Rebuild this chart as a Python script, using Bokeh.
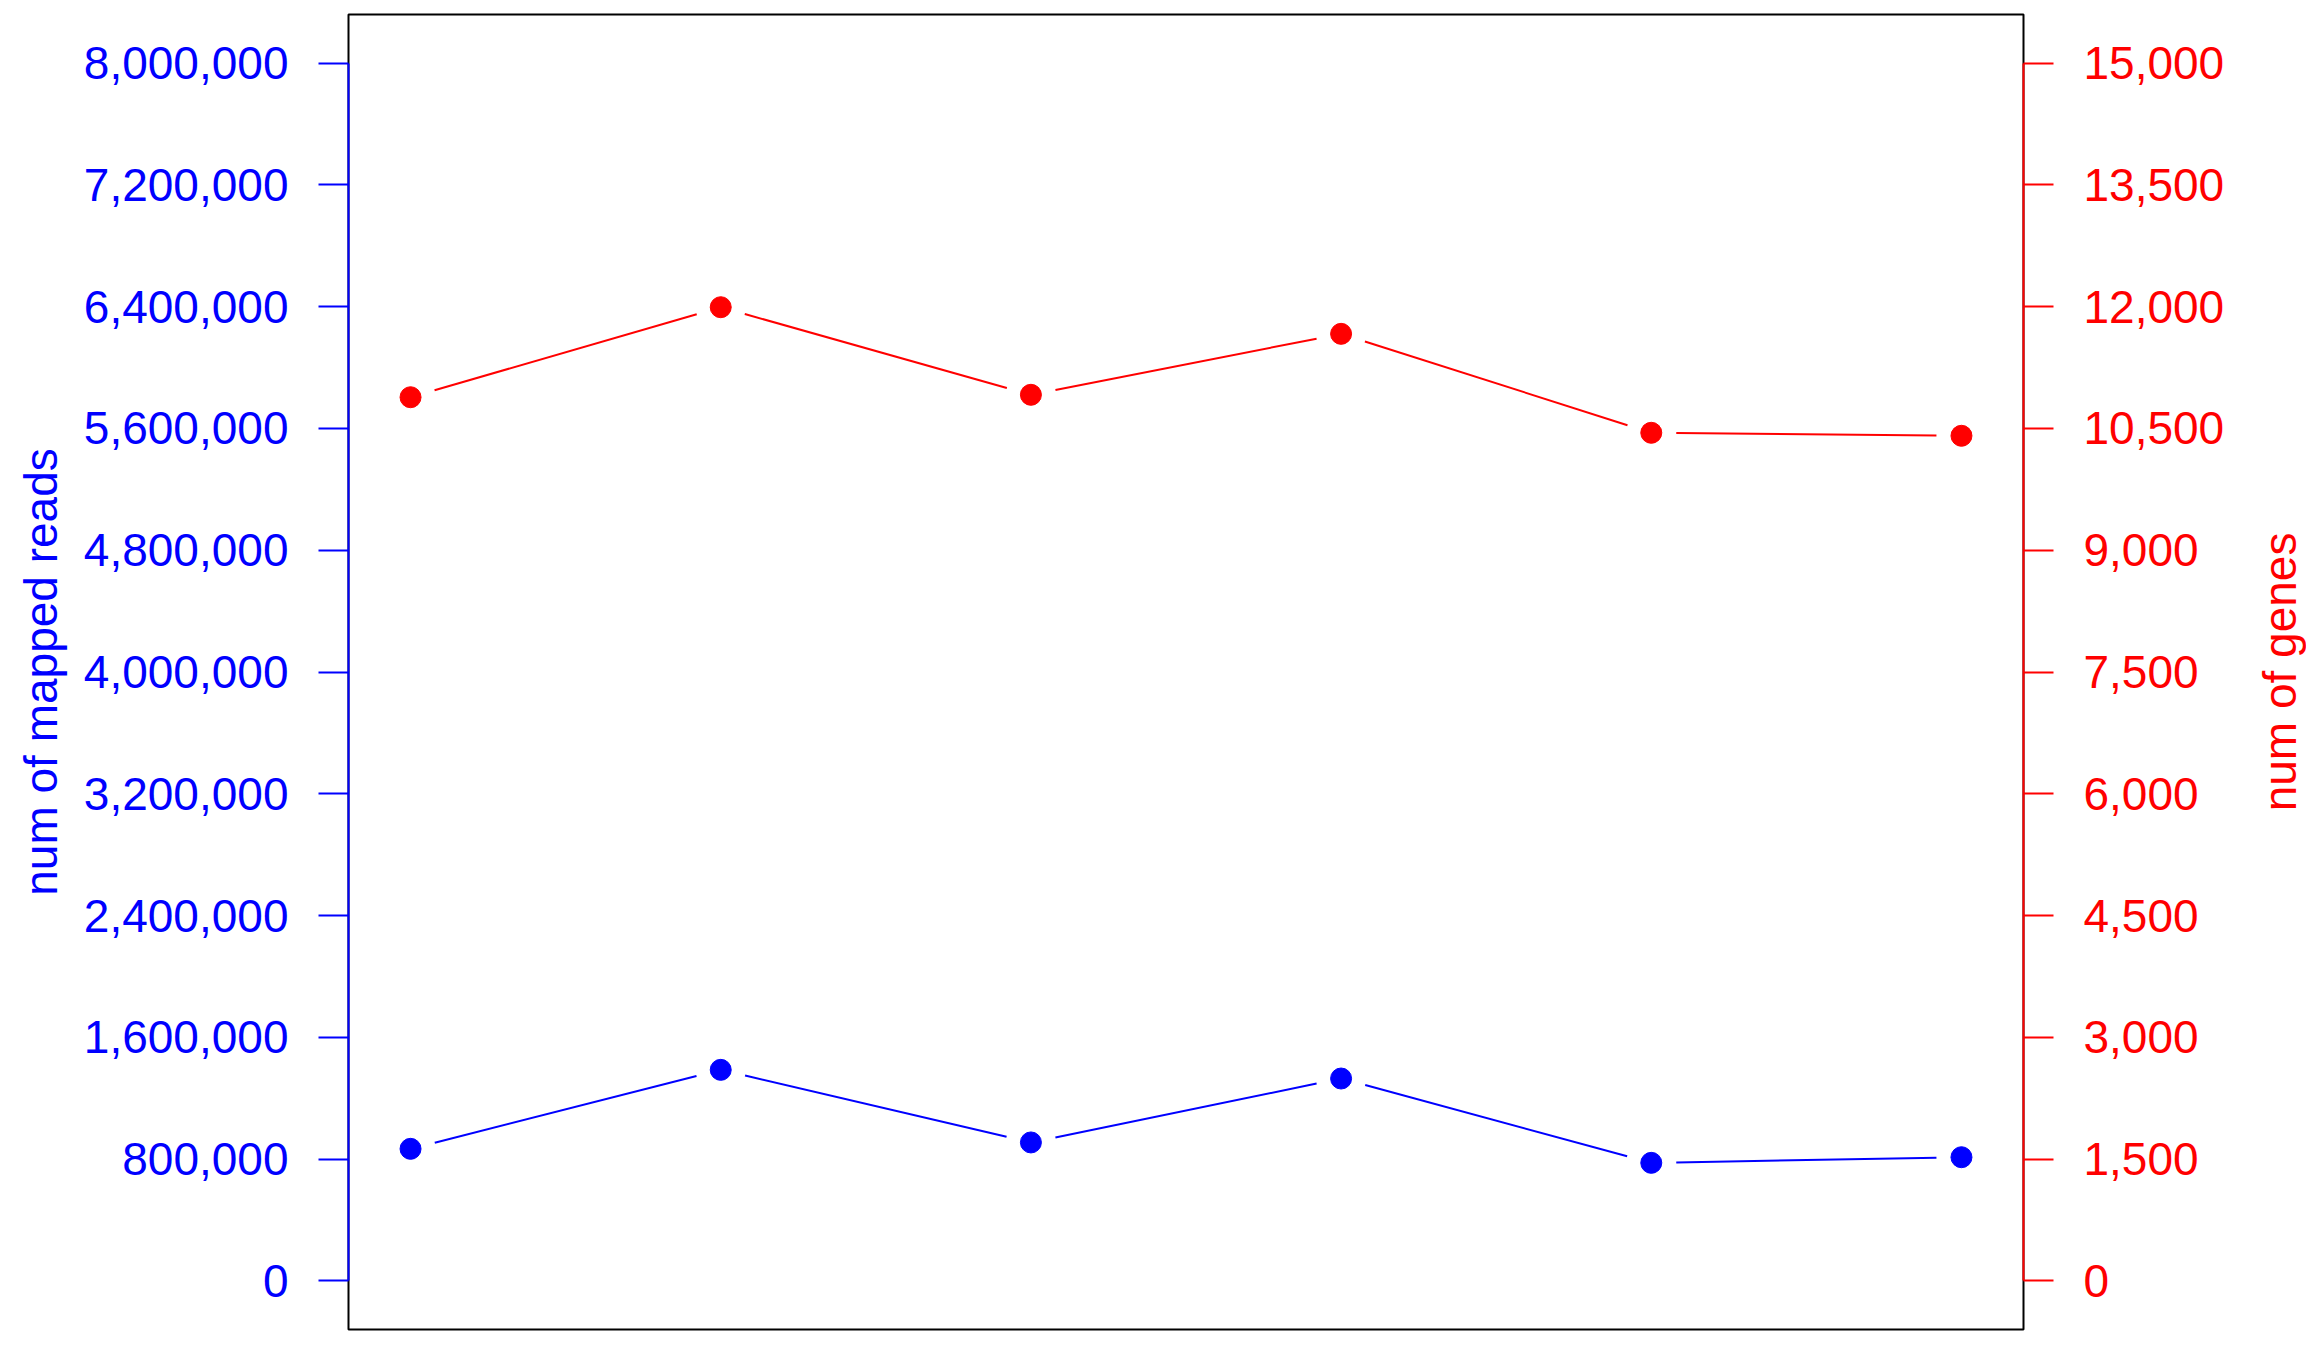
import numpy as np
from bokeh.plotting import figure
from bokeh.layouts import row
from bokeh.models import Range1d, LinearAxis, FixedTicker, NumeralTickFormatter
from bokeh.embed import file_html
from bokeh.resources import INLINE

# ---- data ----
samples = [1, 2, 3, 4, 5, 6]
mapped_reads = [867000, 1386000, 909000, 1329000, 775000, 812000]
num_genes = [10885, 11994, 10915, 11666, 10447, 10410]
reads_ticks = [0, 800000, 1600000, 2400000, 3200000, 4000000, 4800000, 5600000, 6400000, 7200000, 8000000]
genes_ticks = [0, 1500, 3000, 4500, 6000, 7500, 9000, 10500, 12000, 13500, 15000]
reads_label = "num of mapped reads"
genes_label = "num of genes"

BLUE = "#0000FF"
RED = "#FF0000"
FONT = "Liberation Sans"
FS = "46px"
FW, FH = 1675, 1315
GAP = 25.0


def padded(lo, hi, f=0.04):
    d = (hi - lo) * f
    return lo - d, hi + d


x0, x1 = padded(min(samples), max(samples))
r0, r1 = padded(min(reads_ticks), max(reads_ticks))
g0, g1 = padded(min(genes_ticks), max(genes_ticks))

p = figure(frame_width=FW, frame_height=FH, output_backend="svg", toolbar_location=None,
           x_axis_type=None, y_axis_type=None,
           x_range=Range1d(x0, x1), y_range=Range1d(r0, r1),
           min_border_left=348, min_border_right=210, min_border_top=14, min_border_bottom=14)
p.extra_y_ranges = {"genes": Range1d(g0, g1)}
p.outline_line_color = "black"
p.outline_line_width = 2
p.background_fill_color = "white"
p.border_fill_color = "white"


def style_axis(ax, color):
    ax.axis_line_color = color
    ax.axis_line_width = 2
    ax.major_tick_line_color = color
    ax.major_tick_line_width = 2
    ax.major_tick_out = 30
    ax.major_tick_in = 0
    ax.minor_tick_line_color = None
    ax.major_label_text_color = color
    ax.major_label_text_font = FONT
    ax.major_label_text_font_size = FS
    ax.major_label_standoff = 30


def style_title(ax, color, title, standoff):
    ax.axis_label = title
    ax.axis_label_text_color = color
    ax.axis_label_text_font = FONT
    ax.axis_label_text_font_size = FS
    ax.axis_label_text_font_style = "normal"
    ax.axis_label_standoff = standoff


left_ax = LinearAxis(ticker=FixedTicker(ticks=reads_ticks, minor_ticks=[]),
                     formatter=NumeralTickFormatter(format="0,0"),
                     bounds=(min(reads_ticks), max(reads_ticks)))
style_axis(left_ax, BLUE)
style_title(left_ax, BLUE, reads_label, 14)
p.add_layout(left_ax, "left")

right_ax = LinearAxis(y_range_name="genes",
                      ticker=FixedTicker(ticks=genes_ticks, minor_ticks=[]),
                      formatter=NumeralTickFormatter(format="0,0"),
                      bounds=(min(genes_ticks), max(genes_ticks)))
style_axis(right_ax, RED)
p.add_layout(right_ax, "right")


def gapped_segments(xs, ys, ylo, yhi):
    xs = np.asarray(xs, float)
    ys = np.asarray(ys, float)
    px = (xs - x0) / (x1 - x0) * FW
    py = (ys - ylo) / (yhi - ylo) * FH
    sx0, sy0, sx1, sy1 = [], [], [], []
    for i in range(len(xs) - 1):
        dx, dy = px[i + 1] - px[i], py[i + 1] - py[i]
        d = np.hypot(dx, dy)
        ux, uy = dx / d, dy / d
        a = (px[i] + ux * GAP, py[i] + uy * GAP)
        b = (px[i + 1] - ux * GAP, py[i + 1] - uy * GAP)
        sx0.append(x0 + a[0] / FW * (x1 - x0))
        sy0.append(ylo + a[1] / FH * (yhi - ylo))
        sx1.append(x0 + b[0] / FW * (x1 - x0))
        sy1.append(ylo + b[1] / FH * (yhi - ylo))
    return sx0, sy0, sx1, sy1


bx0, by0, bx1, by1 = gapped_segments(samples, mapped_reads, r0, r1)
p.segment(x0=bx0, y0=by0, x1=bx1, y1=by1, line_color=BLUE, line_width=2)
p.scatter(samples, mapped_reads, size=21, color=BLUE)

gx0, gy0, gx1, gy1 = gapped_segments(samples, num_genes, g0, g1)
p.segment(x0=gx0, y0=gy0, x1=gx1, y1=gy1, line_color=RED, line_width=2, y_range_name="genes")
p.scatter(samples, num_genes, size=21, color=RED, y_range_name="genes")

# narrow companion figure that only carries the right-hand title,
# drawn as a left-side axis label so that it reads bottom-to-top and is centred
t = figure(frame_width=1, frame_height=FH, output_backend="svg", toolbar_location=None,
           x_axis_type=None, y_axis_type=None,
           x_range=Range1d(0, 1), y_range=Range1d(g0, g1),
           min_border_left=72, min_border_right=0, min_border_top=14, min_border_bottom=14)
t.outline_line_color = None
t.background_fill_color = "white"
t.border_fill_color = "white"
title_ax = LinearAxis(ticker=FixedTicker(ticks=[], minor_ticks=[]))
title_ax.axis_line_color = None
title_ax.major_tick_line_color = None
title_ax.minor_tick_line_color = None
title_ax.major_tick_out = 0
title_ax.major_tick_in = 0
title_ax.major_label_standoff = 0
style_title(title_ax, RED, genes_label, 0)
t.add_layout(title_ax, "left")

layout = row(p, t, spacing=0)
open("out.html", "w").write(file_html(layout, INLINE))
